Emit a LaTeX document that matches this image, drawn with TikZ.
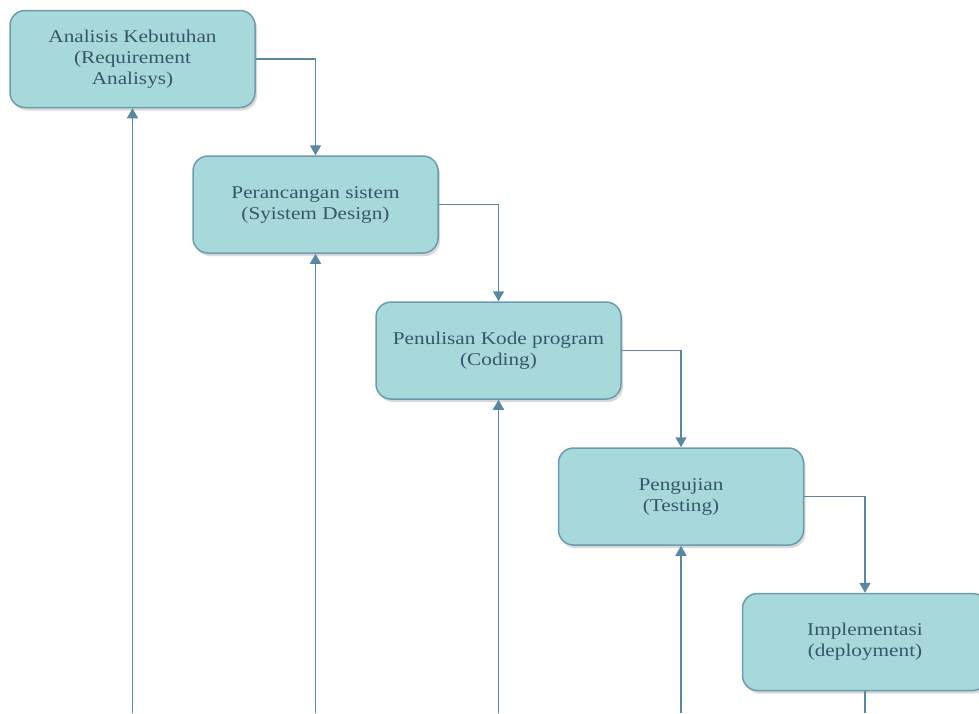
\documentclass[tikz,border=0pt]{standalone}
\usepackage{fontspec}
\setmainfont{Liberation Serif}[FakeStretch=1.18]
\usetikzlibrary{arrows.meta,shadows}
\definecolor{boxfill}{HTML}{A8D9DA}
\definecolor{boxline}{HTML}{6A9CAE}
\definecolor{conn}{HTML}{5A88A3}
\definecolor{txt}{HTML}{37566B}
\tikzset{
  stage/.style={draw=boxline, line width=1.5pt, fill=boxfill, rounded corners=15pt,
    minimum width=245pt, minimum height=97pt, align=center, text=txt,
    font=\fontsize{18pt}{21pt}\selectfont,
    drop shadow={opacity=0.3, shadow xshift=2pt, shadow yshift=-3pt}},
  link/.style={draw=conn, line width=1.6pt, -{Triangle[width=11pt,length=10pt]}},
  plain/.style={draw=conn, line width=1.6pt}
}
\begin{document}
\begin{tikzpicture}[x=1pt,y=-1pt]
\useasboundingbox (0,0) rectangle (979,713);
\clip (0,0) rectangle (979,713);
\node[stage] (b1) at (132.5,59) {Analisis Kebutuhan\\(Requirement\\Analisys)};
\node[stage] (b2) at (315.5,204.5) {Perancangan sistem\\(Syistem Design)};
\node[stage] (b3) at (498.5,350.5) {Penulisan Kode program\\(Coding)};
\node[stage] (b4) at (681,496.5) {Pengujian\\(Testing)};
\node[stage] (b5) at (865,642) {Implementasi\\(deployment)};
\coordinate (e1) at (132.5,713);
\coordinate (e2) at (315.5,713);
\coordinate (e3) at (498.5,713);
\coordinate (e4) at (681,713);
\coordinate (e5) at (865,713);
\draw[link] (b1.east) -| (b2.north);
\draw[link] (b2.east) -| (b3.north);
\draw[link] (b3.east) -| (b4.north);
\draw[link] (b4.east) -| (b5.north);
\draw[link] (e1) -- (b1.south);
\draw[link] (e2) -- (b2.south);
\draw[link] (e3) -- (b3.south);
\draw[link] (e4) -- (b4.south);
\draw[plain] (b5.south) -- (e5);
\end{tikzpicture}
\end{document}
